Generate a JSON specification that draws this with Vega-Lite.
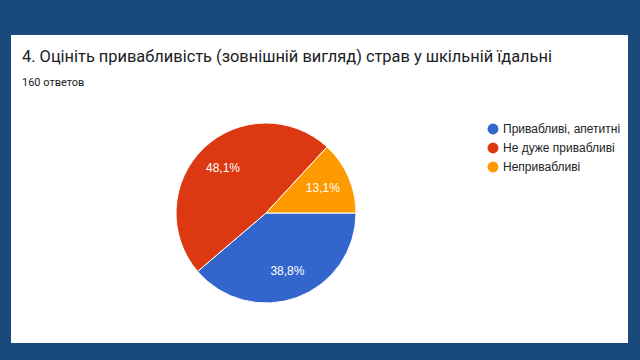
{
  "$schema": "https://vega.github.io/schema/vega-lite/v6.json",
  "width": 617,
  "height": 308,
  "autosize": {"type": "none"},
  "padding": {"left": 11, "top": 35, "right": 12, "bottom": 17},
  "background": "#1a4a7c",
  "view": {"fill": "white", "stroke": null},
  "title": {
    "text": "4. Оцініть привабливість (зовнішній вигляд) страв у шкільній їдальні",
    "subtitle": "160 ответов",
    "anchor": "start",
    "frame": "group",
    "orient": "top",
    "offset": -53,
    "dx": 11,
    "font": "Roboto",
    "fontSize": 16.4,
    "fontWeight": "normal",
    "color": "#202124",
    "subtitleFont": "Roboto",
    "subtitleFontSize": 11,
    "subtitleColor": "#202124",
    "subtitlePadding": 12
  },
  "data": {
    "values": [
      {"answer": "Привабливі, апетитні", "count": 62, "ord": 1, "label": "38,8%"},
      {"answer": "Не дуже привабливі", "count": 77, "ord": 2, "label": "48,1%"},
      {"answer": "Непривабливі", "count": 21, "ord": 3, "label": "13,1%"}
    ]
  },
  "encoding": {
    "theta": {"field": "count", "type": "quantitative", "stack": true, "scale": {"range": [1.5708, 7.854]}},
    "order": {"field": "ord", "type": "quantitative"},
    "x": {"value": 255},
    "y": {"value": 178}
  },
  "layer": [
    {
      "mark": {"type": "arc", "radius": 90, "stroke": "white", "strokeWidth": 1},
      "encoding": {
        "color": {
          "field": "answer",
          "type": "nominal",
          "scale": {
            "domain": ["Привабливі, апетитні", "Не дуже привабливі", "Непривабливі"],
            "range": ["#3366cc", "#dc3912", "#ff9900"]
          },
          "legend": {
            "title": null,
            "orient": "none",
            "legendX": 476,
            "legendY": 88,
            "symbolType": "circle",
            "symbolSize": 120,
            "symbolStrokeWidth": 0,
            "labelFont": "Liberation Sans",
            "labelFontSize": 12,
            "labelColor": "#222222",
            "rowPadding": 7,
            "labelOffset": 4,
            "padding": 0
          }
        }
      }
    },
    {
      "mark": {"type": "text", "radius": 62, "color": "white", "font": "Liberation Sans", "fontSize": 12, "align": "center", "baseline": "middle"},
      "encoding": {"text": {"field": "label"}}
    }
  ]
}
